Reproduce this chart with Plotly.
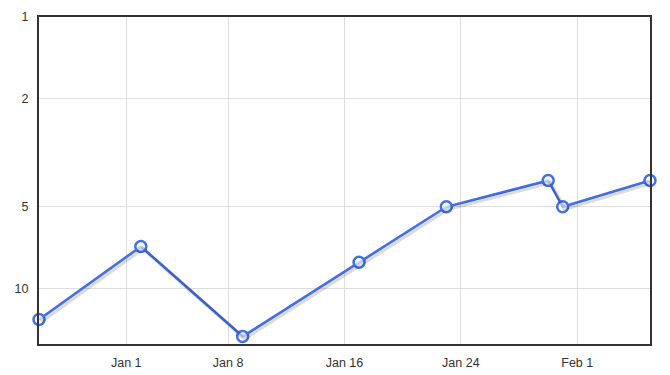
import math
from datetime import datetime
import plotly.graph_objects as go

dates = ["2011-12-26", "2012-01-02", "2012-01-09", "2012-01-17",
         "2012-01-23", "2012-01-30", "2012-01-31", "2012-02-06"]
ranks = [13, 7, 15, 8, 5, 4, 5, 4]

x_tickvals = ["2012-01-01", "2012-01-08", "2012-01-16", "2012-01-24", "2012-02-01"]
x_ticktext = ["Jan 1", "Jan 8", "Jan 16", "Jan 24", "Feb 1"]
y_tickvals = [1, 2, 5, 10]

W, H = 670, 375
ml, mr, mt, mb = 39, 20, 17, 31
pw, ph = W - ml - mr, H - mt - mb

x0, x1 = datetime(2011, 12, 26), datetime(2012, 2, 6)
x_range = [x0, x1]
y_bottom = math.log10(16)
y_range = [y_bottom, 0]

# shadow axes: same scale, shifted 2px right and 2px down
sx = (x1 - x0) * (2 / pw)
sy = y_bottom * (2 / ph)
x2_range = [x0 - sx, x1 - sx]
y2_range = [y_bottom - sy, -sy]

fig = go.Figure()
fig.add_trace(go.Scatter(x=dates, y=ranks, mode="lines", xaxis="x2", yaxis="y2",
                         line=dict(color="rgba(0,0,0,0.14)", width=4),
                         hoverinfo="skip", showlegend=False))
fig.add_trace(go.Scatter(x=dates, y=ranks, mode="lines+markers",
                         line=dict(color="#4170ea", width=2.5),
                         marker=dict(symbol="circle", size=11, color="rgba(255,255,255,0.7)",
                                     line=dict(color="#4170ea", width=2.5)),
                         showlegend=False, cliponaxis=False))

fig.update_layout(
    template="none",
    width=W, height=H, showlegend=False,
    margin=dict(l=ml, r=mr, t=mt, b=mb, pad=0),
    paper_bgcolor="white", plot_bgcolor="white",
    font=dict(family="Liberation Sans, Arial, sans-serif", size=12.5, color="#333"),
    xaxis=dict(type="date", range=x_range, tickvals=x_tickvals, ticktext=x_ticktext,
               showgrid=True, gridcolor="#dddddd", gridwidth=1, automargin=False,
               showline=True, linecolor="#333", linewidth=2, mirror=True,
               ticks="", zeroline=False, ticklabelstandoff=6),
    yaxis=dict(type="log", range=y_range, tickvals=y_tickvals,
               ticktext=[str(v) for v in y_tickvals], automargin=False,
               showgrid=True, gridcolor="#dddddd", gridwidth=1,
               showline=True, linecolor="#333", linewidth=2, mirror=True,
               ticks="", zeroline=False, ticklabelstandoff=6),
    xaxis2=dict(type="date", range=x2_range, overlaying="x", anchor="y2",
                visible=False, showgrid=False, automargin=False),
    yaxis2=dict(type="log", range=y2_range, overlaying="y", anchor="x2",
                visible=False, showgrid=False, automargin=False),
)
fig.write_html("out.html")
